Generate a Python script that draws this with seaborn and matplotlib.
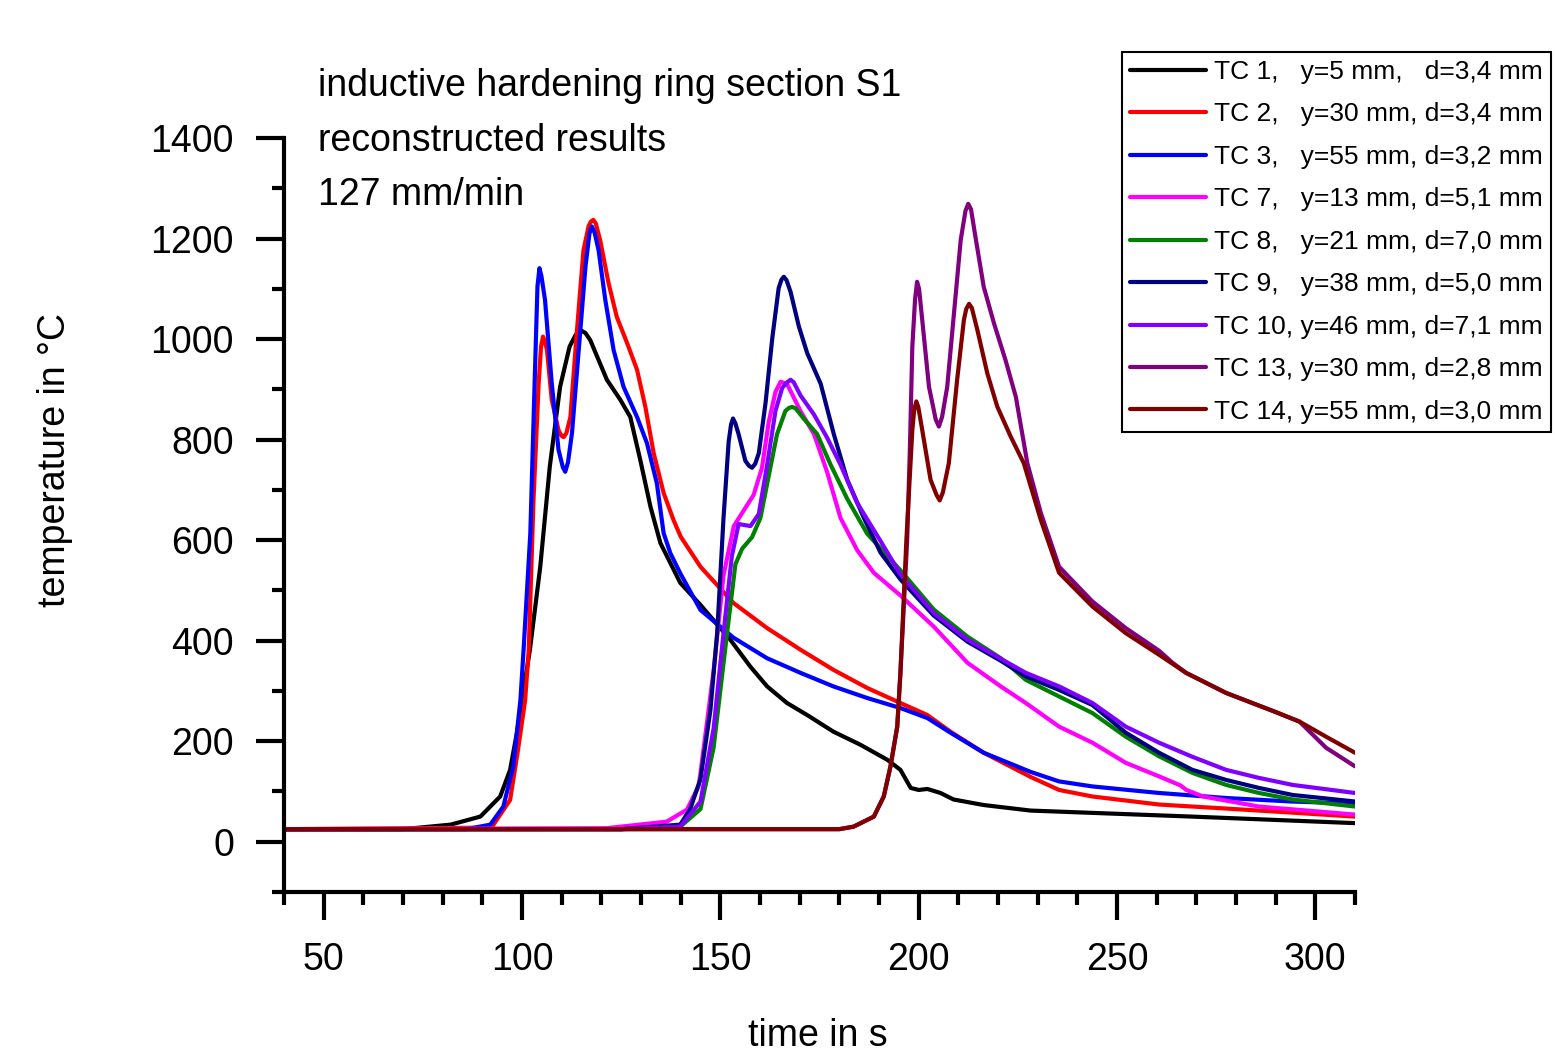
import seaborn as sns
import pandas as pd
import matplotlib.pyplot as plt
from matplotlib.ticker import MultipleLocator

# thermocouple curves (time in s, temperature in degC)
t_tc1 = [40, 70, 82, 89.5, 94.5, 97, 98.7, 100, 102, 104.6, 107, 109.6, 112, 113.5, 114.7, 116, 117.2,
         121.4, 124.8, 127.3, 129.8, 132.4, 134.9, 139.9, 145, 152.5, 157.6, 161.8, 166.8, 171.9, 178.5,
         185.3, 192.1, 195.4, 198, 200, 202.2, 205.5, 208.8, 216.4, 228.2, 269, 310]
T_tc1 = [25, 25, 34, 50, 90, 143, 216, 282, 382, 547, 746, 905, 985, 1008, 1018, 1012, 998,
         919, 879, 845, 760, 666, 594, 515, 471, 402, 348, 309, 276, 252, 219,
         193, 163, 143, 107, 103, 105, 97, 84, 73, 62, 50, 37]

t_tc2 = [40, 92.3, 97, 99, 100.8, 101.7, 102.9, 104.2, 104.8, 105.3, 105.8, 106.3, 107.5, 109.2, 109.9,
         110.5, 111.2, 112.2, 113.8, 115.5, 116.8, 117.4, 118, 118.6, 119.7, 121.8, 123.9, 126.5, 129,
         131.1, 133.2, 135.7, 138.2, 140, 145, 153.3, 161.8, 170.2, 178.5, 187, 195.4, 202.2, 208, 216.4,
         228.2, 235.4, 243.8, 260.6, 277.5, 294, 310]
T_tc2 = [25, 28, 83, 183, 282, 382, 680, 912, 985, 1005, 995, 978, 879, 819, 808,
         805, 813, 845, 1012, 1177, 1225, 1234, 1237, 1230, 1197, 1112, 1044, 992, 939,
         865, 773, 694, 640, 607, 547, 475, 425, 382, 342, 306, 276, 252, 219, 177,
         129, 103, 90, 74, 66, 58, 50]

t_tc3 = [40, 86, 92, 95.3, 97.8, 99.6, 100.4, 102.1, 103.3, 103.9, 104.4, 104.9, 105.8, 107.5, 109.2,
         110.3, 110.9, 111.6, 112.6, 114.3, 116, 117.0, 117.6, 118.3, 119.3, 121, 123.1, 125.6, 129,
         131.5, 134, 135.7, 137.4, 139.9, 145, 153.3, 161.8, 170.2, 178.5, 187, 195.4, 202.2, 208,
         216.4, 228.2, 235.4, 243.8, 260.6, 277.5, 294, 310]
T_tc3 = [25, 25, 34, 70, 150, 282, 382, 614, 945, 1105, 1141, 1125, 1078, 912, 780,
         745, 736, 755, 813, 978, 1144, 1210, 1224, 1212, 1177, 1078, 978, 905, 845,
         793, 713, 614, 574, 534, 461, 406, 365, 336, 309, 286, 266, 246, 217,
         177, 139, 120, 110, 97, 87, 80, 76]

t_tc7 = [40, 121.4, 136.5, 141.6, 144.5, 145, 148.3, 150.8, 153.4, 155.9, 158.4, 160.5, 162.2, 163.9,
         165.2, 166.8, 170.2, 173.6, 176.9, 180.3, 184.5, 188.7, 195.4, 203.8, 212.3, 220.7, 227, 235.4,
         243.8, 252.2, 260.6, 266, 267.5, 271.7, 285.8, 310]
T_tc7 = [25, 27, 40, 64, 110, 137, 340, 530, 628, 659, 690, 744, 835, 895,
         915, 911, 857, 811, 736, 644, 580, 535, 490, 428, 356, 309, 276, 229,
         197, 157, 130, 112, 103, 90, 70, 54]

t_tc8 = [40, 125, 139.9, 145, 148.3, 151.7, 153.8, 155.5, 158, 160.1, 162.2, 164.3, 166.4, 167.3, 168.1,
         169, 171, 174.4, 177.8, 182, 187, 195.4, 203.8, 212.3, 220.7, 227, 235.4, 243.8, 252.2, 260.6,
         269, 277.5, 285.8, 294.3, 310]
T_tc8 = [25, 25, 30, 65, 187, 415, 552, 583, 606, 644, 728, 811, 857, 863, 865,
         862, 842, 811, 750, 682, 613, 540, 462, 408, 365, 322, 289, 256, 209, 170,
         137, 113, 97, 84, 70]

t_tc9 = [40, 125, 139.9, 142.4, 145, 147.5, 149.2, 150.8, 152.1, 152.7, 153.2, 153.8, 154.6, 156.3,
         157.2, 158, 158.8, 159.7, 161.4, 163.1, 164.7, 165.4, 166, 166.7, 167.7, 169.8, 171.9, 175.3,
         178.6, 182, 186.2, 190.4, 195.4, 203.8, 212.3, 220.7, 227, 235.4, 243.8, 252.2, 260.6, 269,
         277.5, 285.8, 294.3, 310]
T_tc9 = [25, 25, 34, 65, 125, 262, 415, 644, 796, 830, 842, 832, 811, 758,
         748, 744, 752, 773, 873, 1002, 1101, 1118, 1124, 1117, 1094, 1025, 972, 911,
         811, 720, 644, 575, 522, 450, 398, 360, 329, 302, 272, 217, 177, 143,
         123, 107, 93, 80]

t_tc10 = [40, 125, 139.9, 145, 148.3, 150.8, 152.9, 154.6, 157.6, 159.7, 161.8, 163.9, 165.6, 167,
          167.7, 168.5, 170.2, 173.6, 176.9, 180.3, 184.5, 190.4, 195.4, 203.8, 212.3, 220.7, 227,
          235.4, 243.8, 252.2, 260.6, 269, 277.5, 285.8, 294.3, 310]
T_tc10 = [25, 25, 30, 80, 225, 415, 568, 632, 628, 652, 750, 857, 903, 915,
          919, 914, 888, 850, 804, 750, 674, 598, 532, 455, 402, 364, 336,
          309, 276, 229, 197, 169, 143, 127, 113, 97]

t_tc13 = [40, 180, 183.6, 188.7, 191.2, 192.9, 194.6, 195.4, 197.1, 197.8, 198.4, 199.1, 199.6, 200.1,
          200.9, 202.6, 204.3, 205.1, 205.9, 207.2, 208.9, 210.6, 211.8, 212.5, 213.2, 214.3, 216.4,
          219, 221.9, 224.5, 227.4, 230.8, 235.4, 243.8, 252.2, 260.6, 264, 267.4, 277.5, 290, 296,
          302.7, 310]
T_tc13 = [25, 25, 30, 50, 90, 150, 229, 336, 600, 786, 985, 1080, 1114, 1100,
          1038, 905, 840, 826, 845, 905, 1051, 1197, 1255, 1269, 1258, 1204, 1104,
          1031, 958, 885, 753, 654, 547, 478, 425, 380, 356, 336, 296, 258, 239,
          187, 150]

t_tc14 = [40, 180, 183.6, 188.7, 191.2, 192.9, 194.6, 195.4, 196.9, 198.4, 198.9, 199.4, 199.9, 200.9,
          203, 204.5, 205.3, 206.1, 207.6, 209.7, 211.4, 212.0, 212.7, 213.4, 214.8, 217.3, 219.8,
          223.2, 226.5, 230.8, 235.4, 243.8, 252.2, 260.6, 267.4, 277.5, 290, 296, 302.7, 310]
T_tc14 = [25, 25, 30, 50, 90, 150, 229, 336, 600, 819, 860, 876, 865, 819,
          720, 690, 679, 695, 753, 919, 1038, 1060, 1070, 1062, 1018, 932, 866,
          806, 753, 640, 535, 468, 415, 372, 336, 296, 258, 239, 209, 177]

labels = ["TC 1,   y=5 mm,   d=3,4 mm",
          "TC 2,   y=30 mm, d=3,4 mm",
          "TC 3,   y=55 mm, d=3,2 mm",
          "TC 7,   y=13 mm, d=5,1 mm",
          "TC 8,   y=21 mm, d=7,0 mm",
          "TC 9,   y=38 mm, d=5,0 mm",
          "TC 10, y=46 mm, d=7,1 mm",
          "TC 13, y=30 mm, d=2,8 mm",
          "TC 14, y=55 mm, d=3,0 mm"]
colors = ["#000000", "#FF0000", "#0000FF", "#FF00FF", "#008000",
          "#000080", "#8000FF", "#800080", "#800000"]

series = [(t_tc1, T_tc1), (t_tc2, T_tc2), (t_tc3, T_tc3), (t_tc7, T_tc7), (t_tc8, T_tc8),
          (t_tc9, T_tc9), (t_tc10, T_tc10), (t_tc13, T_tc13), (t_tc14, T_tc14)]

frames = []
for lab, (tt, TT) in zip(labels, series):
    frames.append(pd.DataFrame({"time": tt, "temp": TT, "sensor": lab}))
df = pd.concat(frames, ignore_index=True)

sns.set_theme(style="ticks")
plt.rcParams['font.family'] = ['Liberation Sans', 'DejaVu Sans']
plt.rcParams.update({"text.color": "black", "axes.labelcolor": "black", "axes.edgecolor": "black",
                     "xtick.color": "black", "ytick.color": "black"})

fig = plt.figure(figsize=(15.55, 10.55), dpi=100)
ax = fig.add_axes([284 / 1555, 163 / 1055, 1071 / 1555, 754 / 1055])

sns.lineplot(data=df, x="time", y="temp", hue="sensor", hue_order=labels,
             palette=dict(zip(labels, colors)), estimator=None, linewidth=3, ax=ax)

ax.set_xlim(40, 310)
ax.xaxis.set_major_locator(MultipleLocator(50))
ax.xaxis.set_minor_locator(MultipleLocator(10))
ax.set_yticks(range(0, 1401, 200))
ax.yaxis.set_minor_locator(MultipleLocator(100))
ax.set_ylim(-100, 1400)

for s in ["top", "right"]:
    ax.spines[s].set_visible(False)
for s in ["left", "bottom"]:
    ax.spines[s].set_linewidth(3)

ax.tick_params(which="major", length=20, width=3, labelsize=27, pad=16, direction="out")
ax.tick_params(which="minor", length=9, width=3, direction="out")

ax.set_xlabel("time in s", fontsize=27, va="top")
ax.set_ylabel("temperature in °C", fontsize=27, va="center")
ax.xaxis.set_label_coords(0.4986, -0.167)
ax.yaxis.set_label_coords(-0.214, 0.573)

fig.text(318 / 1555, 1 - 96 / 1055, "inductive hardening ring section S1", fontsize=27, va="baseline")
fig.text(318 / 1555, 1 - 151 / 1055, "reconstructed results", fontsize=27, va="baseline")
fig.text(318 / 1555, 1 - 205 / 1055, "127 mm/min", fontsize=27, va="baseline")

handles, labs = ax.get_legend_handles_labels()
ax.get_legend().remove()
leg = fig.legend(handles, labs, loc="upper left", bbox_to_anchor=(1122 / 1555, 1 - 52 / 1055),
                 fontsize=19, frameon=True, fancybox=False, framealpha=1, edgecolor="black",
                 borderpad=0.3, borderaxespad=0, labelspacing=0.7, handlelength=2.9,
                 handletextpad=0.3)
leg.get_frame().set_linewidth(1.5)
for line in leg.get_lines():
    line.set_linewidth(3)

fig.savefig("out.png", dpi=100)
